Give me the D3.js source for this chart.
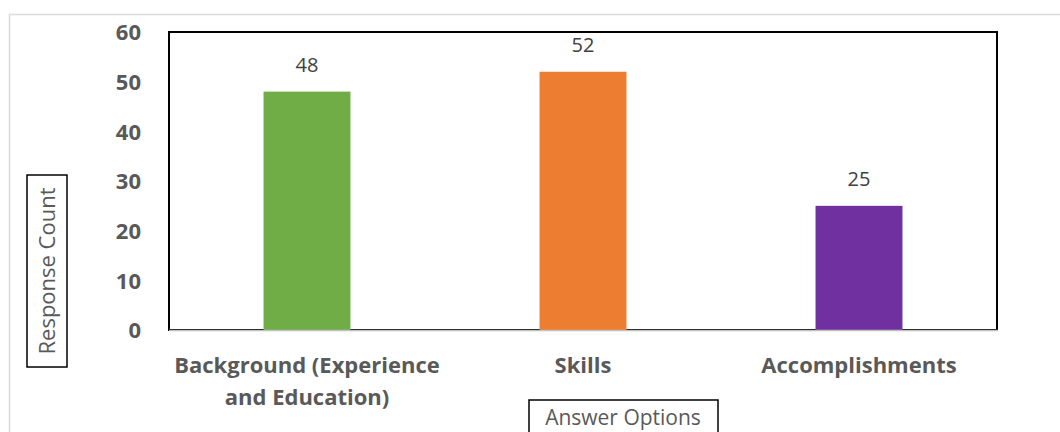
<!DOCTYPE html>
<html>
<head>
<meta charset="utf-8">
<script src="https://cdn.jsdelivr.net/npm/d3@7"></script>
<style>
  html, body { margin: 0; padding: 0; background: #fff; }
  svg { display: block; font-family: "Open Sans", "Noto Sans", sans-serif; }
</style>
</head>
<body>
<svg id="chart" width="1060" height="432"></svg>
<script>
// Survey responses per answer option
const categories = ["Background (Experience and Education)", "Skills", "Accomplishments"];
const categoryLines = [["Background (Experience", "and Education)"], ["Skills"], ["Accomplishments"]];
const responseCounts = [48, 52, 25];
const barColors = ["#70ad47", "#ed7d31", "#7030a0"];
const yTicks = [0, 10, 20, 30, 40, 50, 60];

const svg = d3.select("#chart");
const plot = { left: 169, top: 32, right: 997, bottom: 330 };

// Outer chart frame
svg.append("rect")
  .attr("x", 9.5).attr("y", 14.5)
  .attr("width", 1060).attr("height", 440)
  .attr("fill", "#fff").attr("stroke", "#d9d9d9").attr("stroke-width", 1.5);

const x = d3.scaleBand().domain(categories)
  .range([plot.left, plot.right]).paddingInner(0.685).paddingOuter(0.3425);
const y = d3.scaleLinear().domain([0, 60]).range([plot.bottom, plot.top]);

// Plot area border
svg.append("rect")
  .attr("x", plot.left).attr("y", plot.top)
  .attr("width", plot.right - plot.left).attr("height", plot.bottom - plot.top)
  .attr("fill", "none").attr("stroke", "#000").attr("stroke-width", 2);

// Bars
svg.append("g").selectAll("rect").data(responseCounts).join("rect")
  .attr("x", (d, i) => x(categories[i]))
  .attr("y", d => y(d))
  .attr("width", x.bandwidth())
  .attr("height", d => y(0) - y(d))
  .attr("fill", (d, i) => barColors[i]);

// Category axis line
svg.append("line")
  .attr("x1", plot.left).attr("x2", plot.right + 1)
  .attr("y1", plot.bottom + 0.5).attr("y2", plot.bottom + 0.5)
  .attr("stroke", "#bfbfbf").attr("stroke-width", 1.5);

// Value labels
svg.append("g").selectAll("text").data(responseCounts).join("text")
  .attr("x", (d, i) => x(categories[i]) + x.bandwidth() / 2)
  .attr("y", d => y(d) - 20)
  .attr("text-anchor", "middle")
  .attr("font-size", 20).attr("fill", "#404040")
  .text(d => d);

// Y axis ticks
const yAxis = d3.axisLeft(y).tickValues(yTicks).tickSize(0).tickPadding(0);
const yg = svg.append("g").attr("transform", `translate(141,0)`).call(yAxis);
yg.select(".domain").remove();
yg.selectAll("text")
  .attr("font-family", "'Open Sans', sans-serif")
  .attr("font-size", 22).attr("font-weight", "bold").attr("fill", "#595959")
  .attr("dy", "0.36em");

// Category labels
const cg = svg.append("g");
categories.forEach((c, i) => {
  const t = cg.append("text")
    .attr("x", x(c) + x.bandwidth() / 2)
    .attr("y", 373)
    .attr("text-anchor", "middle")
    .attr("font-size", 22).attr("font-weight", "bold").attr("fill", "#595959");
  categoryLines[i].forEach((line, j) => {
    t.append("tspan").attr("x", x(c) + x.bandwidth() / 2).attr("dy", j === 0 ? 0 : 32).text(line);
  });
});

// Y axis title in a box
const yTitle = svg.append("g").attr("transform", "translate(47,271) rotate(-90)");
yTitle.append("rect").attr("x", -96).attr("y", -20).attr("width", 192).attr("height", 40)
  .attr("fill", "#fff").attr("stroke", "#000").attr("stroke-width", 1.5);
yTitle.append("text").attr("text-anchor", "middle").attr("dy", "0.35em")
  .attr("font-size", 22).attr("fill", "#595959").text("Response Count");

// X axis title in a box
const xTitle = svg.append("g").attr("transform", "translate(623,418)");
xTitle.append("rect").attr("x", -94).attr("y", -18).attr("width", 189).attr("height", 40)
  .attr("fill", "#fff").attr("stroke", "#000").attr("stroke-width", 1.5);
xTitle.append("text").attr("text-anchor", "middle").attr("dy", "0.35em")
  .attr("font-size", 21).attr("fill", "#595959").text("Answer Options");
</script>
</body>
</html>
